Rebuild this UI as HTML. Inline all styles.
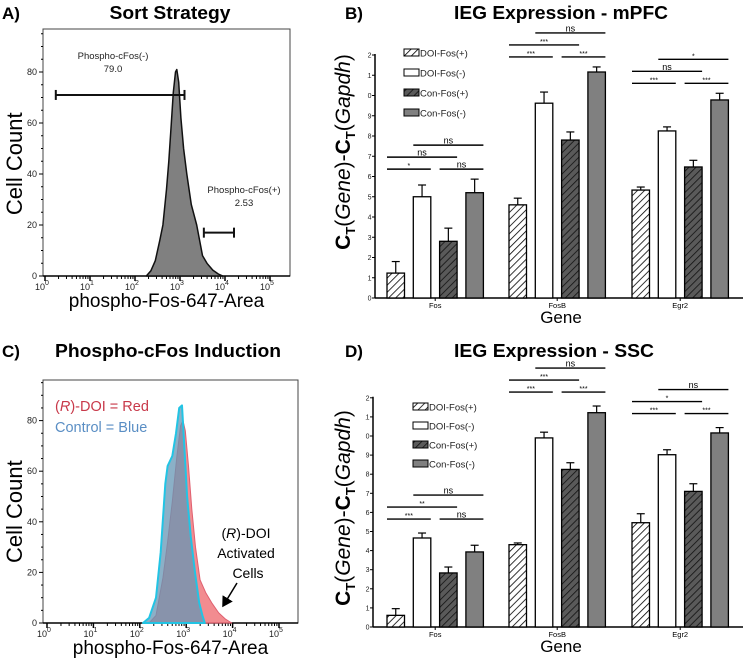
<!DOCTYPE html>
<html><head><meta charset="utf-8"><style>
html,body{margin:0;padding:0;background:#fff}
svg{display:block;font-family:"Liberation Sans",Arial,sans-serif}
</style></head><body>
<svg id="fig" width="745" height="666" viewBox="0 0 745 666" xmlns="http://www.w3.org/2000/svg">
<defs>
<pattern id="hatchW" patternUnits="userSpaceOnUse" width="5" height="5" patternTransform="rotate(45)"><rect width="5" height="5" fill="#fff"/><line x1="0" y1="0" x2="0" y2="5" stroke="#000" stroke-width="1.6"/></pattern>
<pattern id="hatchD" patternUnits="userSpaceOnUse" width="5" height="5" patternTransform="rotate(45)"><rect width="5" height="5" fill="#5a5a5a"/><line x1="0" y1="0" x2="0" y2="5" stroke="#111" stroke-width="1.6"/></pattern>
<clipPath id="clipB"><rect x="367.6" y="0" width="20" height="340"/></clipPath>
<clipPath id="clipD"><rect x="365.6" y="340" width="20" height="326"/></clipPath>
<marker id="arr" markerWidth="8" markerHeight="8" refX="6" refY="4" orient="auto"><path d="M0,0 L7,4 L0,8 Z" fill="#000"/></marker>
</defs>
<g id="root"></g>
</svg>
<script>
// ---------- Data ----------
const histALog = [2.25,2.35,2.45,2.55,2.62,2.7,2.75,2.8,2.85,2.9,2.93,2.97,3.02,3.08,3.15,3.25,3.37,3.5,3.6,3.73,3.85,3.95];
const histACount = [0,2,6,14,20,34,45,58,72,80,81,76,62,50,40,28,20,8,5,2.3,0.8,0];
const histCRedLog = [2.2,2.35,2.5,2.6,2.7,2.8,2.88,2.93,2.98,3.05,3.12,3.2,3.3,3.42,3.55,3.7,3.85,3.98];
const histCRedCount = [0,3,18,32,48,66,78,80,76,62,45,30,17,12,8,4,1.5,0];
const histCBlueLog = [2.07,2.2,2.35,2.45,2.55,2.6,2.7,2.78,2.85,2.91,2.96,3.02,3.1,3.19,3.28,3.35,3.4];
const histCBlueCount = [0,2,10,28,55,62,66,75,85,86,70,50,34,20,8,3,0];
const logTicks = [0,1,2,3,4,5];
const countTicks = [0,20,40,60,80];

const genes = ["Fos","FosB","Egr2"];
const groups = ["DOI-Fos(+)","DOI-Fos(-)","Con-Fos(+)","Con-Fos(-)"];
const mPFCValues = [[1.23,5.0,2.8,5.2],[4.6,9.62,7.8,11.16],[5.33,8.25,6.47,9.78]];
const mPFCErrors = [[0.57,0.58,0.65,0.67],[0.33,0.55,0.4,0.25],[0.15,0.2,0.33,0.33]];
const sscValues = [[0.61,4.66,2.83,3.93],[4.31,9.9,8.25,11.22],[5.46,9.02,7.1,10.16]];
const sscErrors = [[0.35,0.26,0.31,0.35],[0.09,0.3,0.35,0.35],[0.47,0.26,0.4,0.28]];
const barTicks = [0,1,2,3,4,5,6,7,8,9,10,11,12];
const mPFCSig = [[0,0,1,0,"*"],[0,0,2,1,"ns"],[0,1,3,2,"ns"],[0,2,3,0,"ns"],
                 [1,0,1,0,"***"],[1,0,2,1,"***"],[1,1,3,2,"ns"],[1,2,3,0,"***"],
                 [2,0,1,0,"***"],[2,0,2,1,"ns"],[2,1,3,2,"*"],[2,2,3,0,"***"]];
const sscSig = mPFCSig.map(s=>s.slice());
sscSig[1][4]="**"; sscSig[0][4]="***"; sscSig[9][4]="*"; sscSig[10][4]="ns";

// ---------- helpers ----------
const NS="http://www.w3.org/2000/svg";
const root=document.getElementById('root');
function mk(tag,attrs,parent,txt){const e=document.createElementNS(NS,tag);for(const k in attrs)e.setAttribute(k,attrs[k]);if(txt!==undefined)e.textContent=txt;(parent||root).appendChild(e);return e;}

function title(x,y,t,anchor,size,name,len){const e=mk('text',{x:x,y:y,'font-size':size,'font-weight':'bold','text-anchor':anchor},root,t);


if(len){e.setAttribute('textLength',len);e.setAttribute('lengthAdjust','spacingAndGlyphs');}return e;}
title(2,19,"A)","start",17,"panel-a-label",18);
title(170,19,"Sort Strategy","middle",18,"panel-a-title",121);
title(345,19,"B)","start",17,"panel-b-label",18);
title(561,19,"IEG Expression - mPFC","middle",18,"panel-b-title",214);
title(2,357,"C)","start",17,"panel-c-label",18);
title(168,357,"Phospho-cFos Induction","middle",18,"panel-c-title",226);
title(345,357,"D)","start",17,"panel-d-label",18);
title(554,357,"IEG Expression - SSC","middle",18,"panel-d-title",200);

// ---------- histogram panels ----------
function histPanel(o){
  const g=mk('g',{});
  
  
  const X=l=>o.x0+o.dec*l, Y=v=>o.yb-o.sy*v;
  const box=mk('rect',{x:o.left,y:o.top,width:o.right-o.left,height:o.yb-o.top,fill:'none',stroke:'#444','stroke-width':1},g);
  
  
  for(let v=0;v<=95;v+=5){const major=v%20===0;mk('line',{x1:o.left-(major?4:2),x2:o.left,y1:Y(v),y2:Y(v),stroke:'#000','stroke-width':1},g);}
  countTicks.forEach(v=>{const t=mk('text',{x:o.left-6,y:Y(v)+3,'font-size':9,'text-anchor':'end',fill:'#222'},g,String(v));
    
    });
  mk('line',{x1:o.left,x2:o.right,y1:o.yb,y2:o.yb,stroke:'#000','stroke-width':1.5},g);
  logTicks.forEach(l=>{
    mk('line',{x1:X(l),x2:X(l),y1:o.yb,y2:o.yb+5,stroke:'#000','stroke-width':1.5},g);
    if(l<5)for(let k=2;k<10;k++){const xx=X(l+Math.log10(k));mk('line',{x1:xx,x2:xx,y1:o.yb,y2:o.yb+3,stroke:'#000','stroke-width':1},g);}
    const t=mk('text',{x:X(l)-3,y:o.yb+14,'font-size':9,'text-anchor':'middle',fill:'#222'},g,"10");
    
    
    mk('tspan',{dy:-5,'font-size':7},t,String(l));
  });
  const xt=mk('text',{x:(o.left+o.right)/2,y:o.yb+31,'font-size':19,'text-anchor':'middle'},g,"phospho-Fos-647-Area");
  
  
  const yt=mk('text',{x:0,y:0,'font-size':22,'text-anchor':'middle',transform:`translate(${o.left-21},${Y(44)}) rotate(-90)`},g,"Cell Count");
  
  
  o.series.forEach(s=>{
    let d=`M${X(s.logs[0])},${Y(0)}`;
    s.logs.forEach((l,i)=>{d+=` L${X(l).toFixed(1)},${Y(s.counts[i]).toFixed(1)}`;});
    d+=` L${X(s.logs[s.logs.length-1])},${Y(0)} Z`;
    const p=mk('path',{d:d,fill:s.fill,stroke:s.stroke,'stroke-width':s.sw,'stroke-linejoin':'round'},g);
    
    
  });
  return {g,X,Y};
}
const A=histPanel({name:'sort-strategy-histogram',x0:45,dec:45,yb:276,sy:2.55,left:43,right:290,top:29,
  series:[{name:'histogram-area',logs:histALog,counts:histACount,fill:'#808080',stroke:'#111',sw:1.5}]});
function gate(P,l1,l2,v,name){const g=mk('g',{},P.g);
  const x1=P.X(l1),x2=P.X(l2),y=P.Y(v);
  mk('line',{x1:x1,x2:x2,y1:y,y2:y,stroke:'#111','stroke-width':2},g);
  mk('line',{x1:x1,x2:x1,y1:y-5,y2:y+5,stroke:'#111','stroke-width':2},g);
  mk('line',{x1:x2,x2:x2,y1:y-5,y2:y+5,stroke:'#111','stroke-width':2},g);}
gate(A,0.24,3.1,71,'negative-gate');
gate(A,3.53,4.2,17,'positive-gate');
[["Phospho-cFos(-)",113,59],["79.0",113,72],["Phospho-cFos(+)",244,193],["2.53",244,206]].forEach(a=>{
  const t=mk('text',{x:a[1],y:a[2],'font-size':9.5,'text-anchor':'middle',fill:'#222'},A.g,a[0]);
  
  });

const C=histPanel({name:'induction-histogram',x0:47,dec:46.4,yb:623,sy:2.53,left:43,right:298,top:380,
  series:[{name:'doi-histogram',logs:histCRedLog,counts:histCRedCount,fill:'rgba(240,120,125,0.85)',stroke:'#e06070',sw:1},
          {name:'control-histogram',logs:histCBlueLog,counts:histCBlueCount,fill:'rgba(100,150,180,0.75)',stroke:'#22c4e4',sw:2}]});
(function(){
  const t1=mk('text',{x:55,y:411,'font-size':14.5,fill:'#c8394a'},C.g);
  
  
  mk('tspan',{},t1,"(");mk('tspan',{'font-style':'italic'},t1,"R");mk('tspan',{},t1,")-DOI = Red");
  const t2=mk('text',{x:55,y:432,'font-size':14.5,fill:'#5a8ec4'},C.g,"Control = Blue");
  
  
  const a=mk('g',{},C.g);
  const t3=mk('text',{x:246,y:538,'font-size':14,'text-anchor':'middle'},a);
  mk('tspan',{},t3,"(");mk('tspan',{'font-style':'italic'},t3,"R");mk('tspan',{},t3,")-DOI");
  mk('text',{x:246,y:558,'font-size':14,'text-anchor':'middle'},a,"Activated");
  mk('text',{x:248,y:578,'font-size':14,'text-anchor':'middle'},a,"Cells");
  mk('line',{x1:237,y1:583,x2:223,y2:606,stroke:'#000','stroke-width':1.5,'marker-end':'url(#arr)'},a);
})();

// ---------- bar panels ----------
const barFill=['url(#hatchW)','#fff','url(#hatchD)','#808080'];
const barX0=[387,509,632], barStep=26.3, barW=17.5;
function barPanel(o){
  const g=mk('g',{});
  
  
  const Y=v=>o.yb-o.sy*v;
  const bx=(gi,bi)=>barX0[gi]+barStep*bi;
  mk('line',{x1:o.ax,x2:o.ax,y1:Y(12)-1,y2:o.yb,stroke:'#000','stroke-width':1.5},g);
  mk('line',{x1:o.ax,x2:743,y1:o.yb,y2:o.yb,stroke:'#000','stroke-width':1.5},g);
  const tl=mk('g',{'clip-path':o.clip},g);
  barTicks.forEach(v=>{
    mk('line',{x1:o.ax-3,x2:o.ax,y1:Y(v),y2:Y(v),stroke:'#000','stroke-width':1},g);
    const t=mk('text',{x:o.ax-3.5,y:Y(v)+2.5,'font-size':7,'text-anchor':'end',fill:'#222'},tl,String(v));
    
    
  });
  genes.forEach((gn,gi)=>{
    const cx=bx(gi,0)+(barStep*3+barW)/2;
    mk('line',{x1:cx,x2:cx,y1:o.yb,y2:o.yb+3,stroke:'#000'},g);
    const t=mk('text',{x:cx,y:o.yb+10,'font-size':7.5,'text-anchor':'middle'},g,gn);
    
    
    o.values[gi].forEach((v,bi)=>{
      const x=bx(gi,bi), e=o.errors[gi][bi];
      const eb=mk('g',{},g);
      
      
      mk('line',{x1:x+barW/2,x2:x+barW/2,y1:Y(v),y2:Y(v+e),stroke:'#000','stroke-width':1.2},eb);
      mk('line',{x1:x+barW/2-4,x2:x+barW/2+4,y1:Y(v+e),y2:Y(v+e),stroke:'#000','stroke-width':1.2},eb);
      const r=mk('rect',{x:x,y:Y(v),width:barW,height:o.yb-Y(v),fill:barFill[bi],stroke:'#000','stroke-width':1.3},g);
      
      
    });
  });
  o.sig.forEach(s=>{
    const [gi,a,b,lv,lab]=s;
    const tops=o.values[gi].map((v,i)=>v+o.errors[gi][i]);
    const base=Math.max(...tops);
    const y=Y(base)-o.sigOff-lv*o.sigGap;
    const x1=bx(gi,a), x2=bx(gi,b)+barW;
    const sg=mk('g',{},g);
    
    
    mk('line',{x1:x1,x2:x2,y1:y,y2:y,stroke:'#000','stroke-width':1.4},sg);
    mk('text',{x:(x1+x2)/2,y:y-(lab==="ns"?1.5:1),'font-size':lab==="ns"?9:7,'text-anchor':'middle'},sg,lab);
  });
  groups.forEach((gr,i)=>{
    const lg=mk('g',{},g);
    
    
    const y=o.legY+i*o.legGap;
    mk('rect',{x:o.legX,y:y-4,width:15,height:7,fill:barFill[i],stroke:'#000','stroke-width':1},lg);
    mk('text',{x:o.legX+16,y:y+3.5,'font-size':9.5,fill:'#222'},lg,gr);
  });
  const gt=mk('text',{x:561,y:o.yb+25,'font-size':17,'text-anchor':'middle'},g,"Gene");
  
  
  const yt=mk('text',{x:0,y:0,'font-size':21,'text-anchor':'middle',transform:`translate(${o.ytx},${o.yty}) rotate(-90)`},g);
  
  
  mk('tspan',{'font-weight':'bold'},yt,"C");mk('tspan',{'font-size':13,'font-weight':'bold',dy:5},yt,"T");
  mk('tspan',{dy:-5},yt,"(");mk('tspan',{'font-style':'italic'},yt,"Gene");mk('tspan',{},yt,")-");
  mk('tspan',{'font-weight':'bold'},yt,"C");mk('tspan',{'font-size':13,'font-weight':'bold',dy:5},yt,"T");
  mk('tspan',{dy:-5},yt,"(");mk('tspan',{'font-style':'italic'},yt,"Gapdh");mk('tspan',{},yt,")");
}
barPanel({name:'mpfc-bar-chart',values:mPFCValues,errors:mPFCErrors,sig:mPFCSig,yb:298,sy:20.25,ax:375,clip:'url(#clipB)',
  sigOff:10,sigGap:12,legX:404,legY:53,legGap:20,ytx:350,yty:152});
barPanel({name:'ssc-bar-chart',values:sscValues,errors:sscErrors,sig:sscSig,yb:627,sy:19.1,ax:373,clip:'url(#clipD)',
  sigOff:14,sigGap:12,legX:413,legY:407,legGap:19,ytx:350,yty:508});
</script>
</body></html>
